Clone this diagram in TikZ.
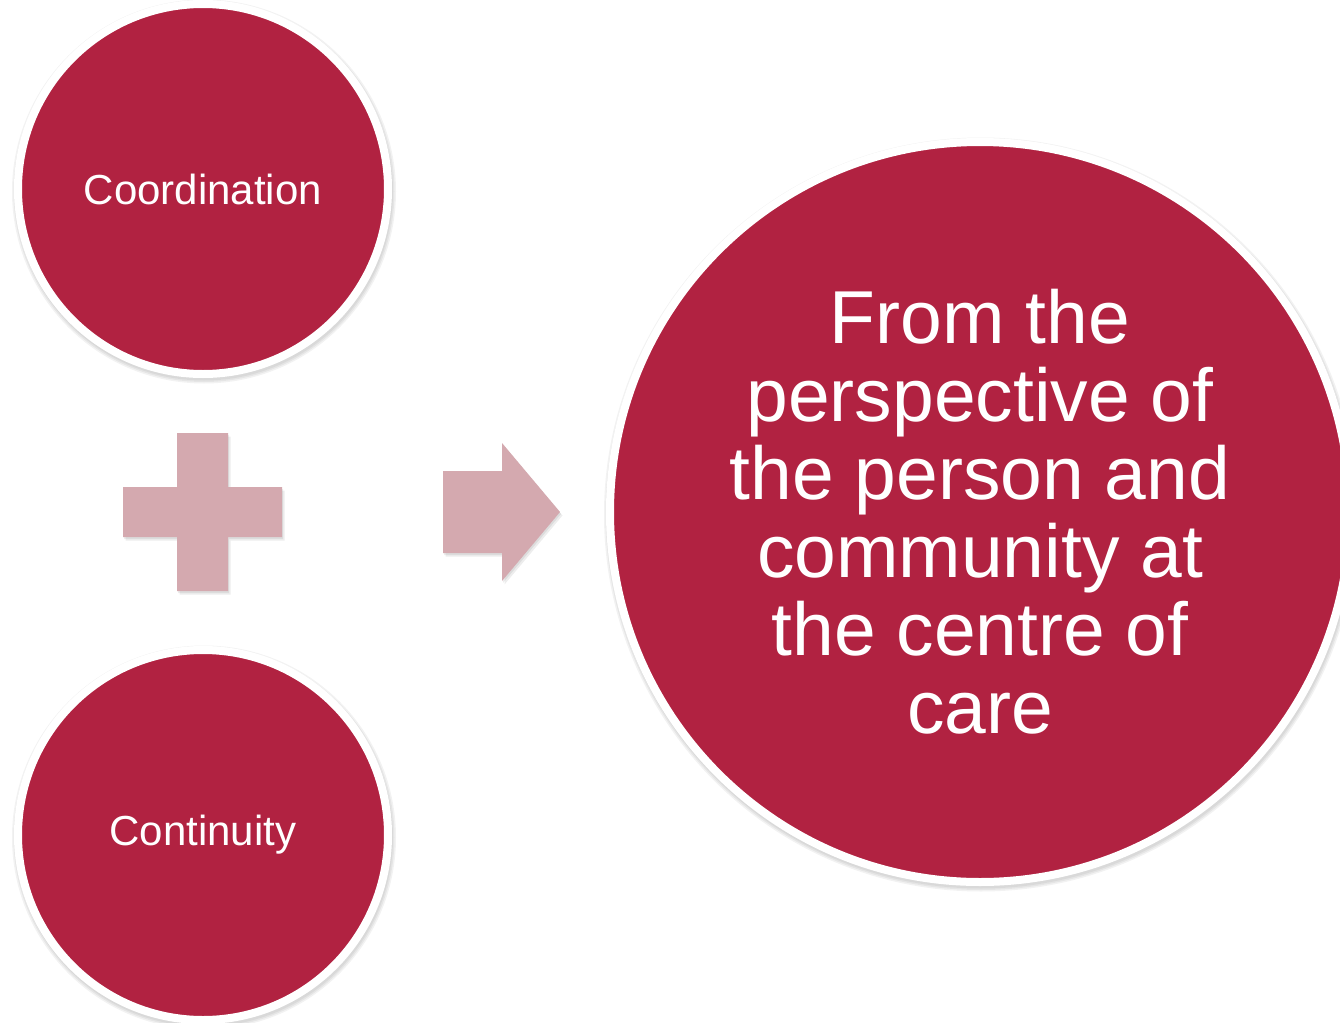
\documentclass[tikz,border=0pt]{standalone}
\usepackage{fontspec}
\setmainfont{Liberation Sans}
\definecolor{wine}{HTML}{B12241}
\definecolor{rose}{HTML}{D4A9AF}
\begin{document}
\begin{tikzpicture}[x=0.5pt,y=-0.5pt,
  shadowc/.style={circle,inner sep=0pt,fill=black,opacity=0.06,draw=none},
  bubble/.style={circle,inner sep=0pt,fill=wine,draw=white,line width=4pt,text=white,align=center},
  shape shadow/.style={fill=black,opacity=0.12}]
\useasboundingbox (0,0) rectangle (1340,1023);
\clip (0,0) rectangle (1340,1023);
\fill[white] (0,0) rectangle (1340,1023);
% shadows of circles
\foreach \cx/\cy/\r in {203/189/189,203/835/189,980/512/374}{
  \foreach \d in {0,1.5,3}{
    \fill[black,opacity=0.05] (\cx+1,\cy+2.5) circle[radius=(\r+\d)*0.5pt];
  }
}
\node[bubble,minimum size=185pt,font=\fontsize{21}{25}\selectfont] (coord) at (203,189) {Coordination};
\node[bubble,minimum size=185pt,font=\fontsize{21}{25}\selectfont] (cont) at (203,835) {Continuity};
\node[bubble,minimum size=370pt,font=\fontsize{37.5}{39}\selectfont] (goal) at (980,512)
  {From the\\perspective of\\the person and\\community at\\the centre of\\care};
% plus sign
\coordinate (plusc) at (203,512);
\foreach \o in {1,2.5}{
\fill[shape shadow,opacity=0.07] ([shift={(\o,\o+1)}]plusc) ++(-26,-79) -- ++(51,0) -- ++(0,54) -- ++(54,0) -- ++(0,50) -- ++(-54,0) -- ++(0,54) -- ++(-51,0) -- ++(0,-54) -- ++(-54,0) -- ++(0,-50) -- ++(54,0) -- cycle;
}
\fill[rose] (plusc) ++(-26,-79) -- ++(51,0) -- ++(0,54) -- ++(54,0) -- ++(0,50) -- ++(-54,0) -- ++(0,54) -- ++(-51,0) -- ++(0,-54) -- ++(-54,0) -- ++(0,-50) -- ++(54,0) -- cycle;
% arrow
\coordinate (arr) at (443,512);
\foreach \o in {1,2.5}{
\fill[shape shadow,opacity=0.07] ([shift={(\o,\o+1)}]arr) ++(0,-41) -- ++(59,0) -- ++(0,-28) -- ++(58,69) -- ++(-58,69) -- ++(0,-28) -- ++(-59,0) -- cycle;
}
\fill[rose] (arr) ++(0,-41) -- ++(59,0) -- ++(0,-28) -- ++(58,69) -- ++(-58,69) -- ++(0,-28) -- ++(-59,0) -- cycle;
\end{tikzpicture}
\end{document}
